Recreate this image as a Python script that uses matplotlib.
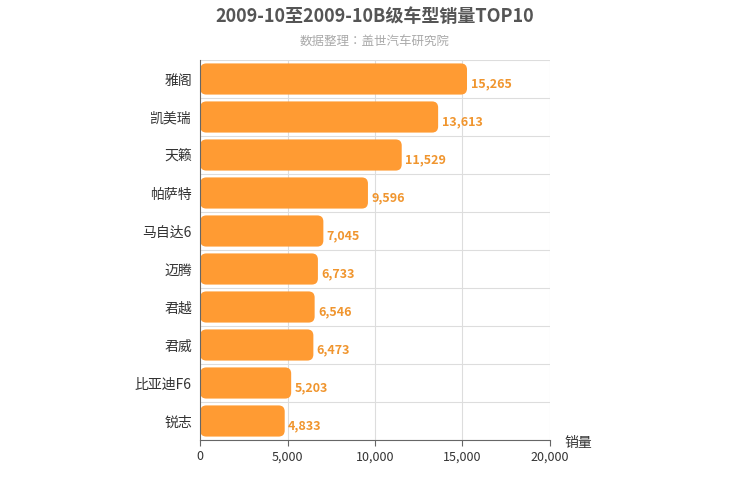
import matplotlib.pyplot as plt
from matplotlib import font_manager
from matplotlib.patches import FancyBboxPatch

cjk = sorted({f.name for f in font_manager.fontManager.ttflist if 'Sans CJK' in f.name})
fam = 'Noto Sans CJK SC' if 'Noto Sans CJK SC' in cjk else (cjk[0] if cjk else 'DejaVu Sans')
plt.rcParams['font.family'] = 'sans-serif'
plt.rcParams['font.sans-serif'] = [fam, 'DejaVu Sans']

models = ['雅阁', '凯美瑞', '天籁', '帕萨特', '马自达6', '迈腾', '君越', '君威', '比亚迪F6', '锐志']
sales = [15265, 13613, 11529, 9596, 7045, 6733, 6546, 6473, 5203, 4833]
xticks = [0, 5000, 10000, 15000, 20000]

fig = plt.figure(figsize=(7.5, 5), dpi=100)
ax = fig.add_axes([0.267, 0.12, 0.466, 0.76])
n = len(models)
ax.set_xlim(0, 20000)
ax.set_ylim(n, 0)

# 网格
for x in xticks[1:]:
    ax.axvline(x, color='#dddddd', lw=0.8, zorder=0)
for i in range(n + 1):
    ax.axhline(i, color='#dddddd', lw=0.8, zorder=0)

asp = (10 / 380) / (20000 / 350)
for i, v in enumerate(sales):
    h = 0.82
    p = FancyBboxPatch((0, i + 0.5 - h / 2), v, h,
                       boxstyle='round,pad=0,rounding_size=350',
                       mutation_aspect=asp, fc='#FF9B33', ec='none', zorder=2)
    ax.add_patch(p)
    ax.text(v + 200, i + 0.62, f'{v:,}', color='#F0952E', fontsize=9,
            fontweight='bold', va='center', ha='left')

ax.set_yticks([i + 0.5 for i in range(n)])
ax.set_yticklabels(models, fontsize=10, color='#333333')
ax.set_xticks(xticks)
ax.set_xticklabels([f'{x:,}' for x in xticks], fontsize=9, color='#333333')
ax.tick_params(axis='y', length=0, pad=6)
ax.tick_params(axis='x', length=4, color='#666666')
for s in ['top', 'right']:
    ax.spines[s].set_visible(False)
ax.spines['left'].set_color('#666666')
ax.spines['bottom'].set_color('#666666')

fig.text(0.753, 0.105, '销量', fontsize=10, color='#333333', ha='left')
fig.text(0.5, 0.955, '2009-10至2009-10B级车型销量TOP10', fontsize=13,
         fontweight='bold', color='#555555', ha='center')
fig.text(0.5, 0.91, '数据整理：盖世汽车研究院', fontsize=9, color='#aaaaaa', ha='center')

fig.savefig('out.png')
